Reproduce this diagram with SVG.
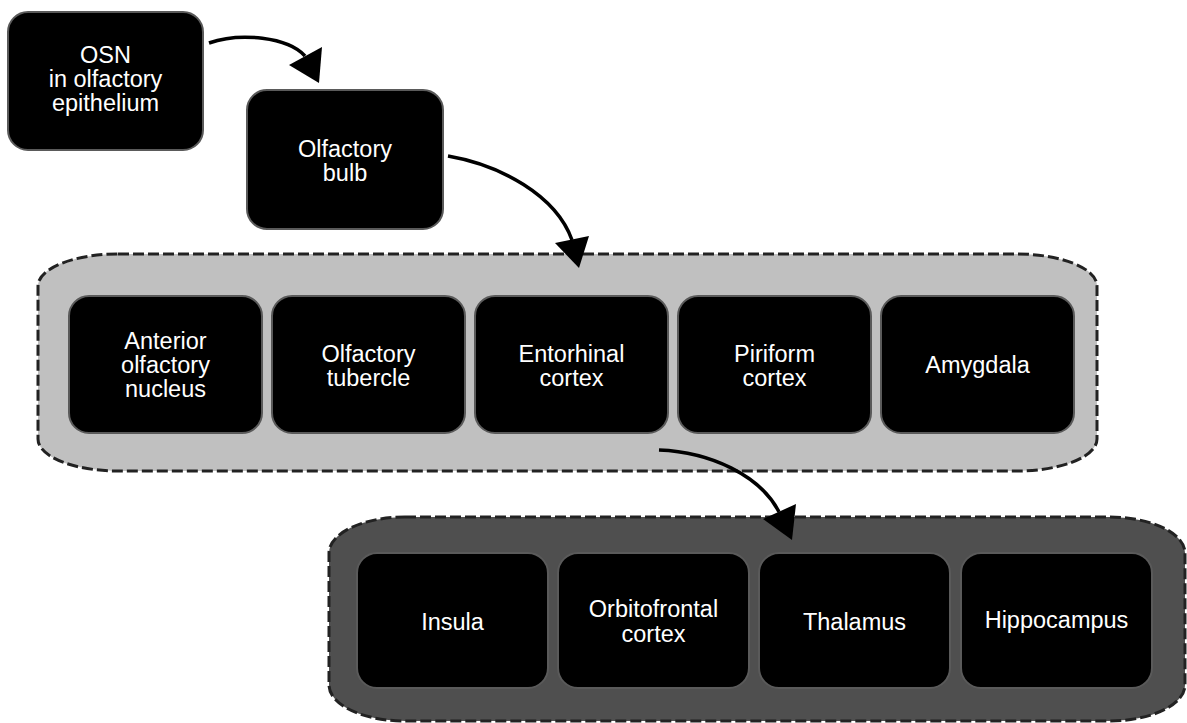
<svg xmlns="http://www.w3.org/2000/svg" width="1187" height="723" viewBox="0 0 1187 723">
<style>
.bg{fill:#ffffff}
.grp1{fill:#c0c0c0;stroke:#222222;stroke-width:3;stroke-dasharray:11 4}
.grp2{fill:#4f4f4f;stroke:#222222;stroke-width:3;stroke-dasharray:11 4}
.box{fill:#000000;stroke:#5a5a5a;stroke-width:2}
.lbl{fill:#ffffff;font-family:"Liberation Sans",Arial,sans-serif;font-size:23.5px;text-anchor:middle}
.wire{fill:none;stroke:#000000;stroke-width:3.5}
.head{fill:#000000}
</style>
<rect class="bg" x="0" y="0" width="1187" height="723"/>
<g id="group-primary">
<rect class="grp1" x="38" y="254" width="1059" height="217" rx="80" ry="32"/>
</g>
<g id="group-secondary">
<rect class="grp2" x="329" y="517" width="856" height="204" rx="76" ry="36"/>
</g>
<g id="osn">
<rect class="box" x="8" y="12" width="195" height="138" rx="20"/>
<text class="lbl" x="105.5" y="63">OSN</text>
<text class="lbl" x="105.5" y="87">in olfactory</text>
<text class="lbl" x="105.5" y="111">epithelium</text>
</g>
<g id="olfactory-bulb">
<rect class="box" x="247" y="90" width="196" height="139" rx="20"/>
<text class="lbl" x="345" y="157">Olfactory</text>
<text class="lbl" x="345" y="181">bulb</text>
</g>
<g id="anterior-olfactory-nucleus">
<rect class="box" x="69" y="296" width="193" height="137" rx="20"/>
<text class="lbl" x="165.5" y="349">Anterior</text>
<text class="lbl" x="165.5" y="373">olfactory</text>
<text class="lbl" x="165.5" y="397">nucleus</text>
</g>
<g id="olfactory-tubercle">
<rect class="box" x="272" y="296" width="193" height="137" rx="20"/>
<text class="lbl" x="368.5" y="362">Olfactory</text>
<text class="lbl" x="368.5" y="386">tubercle</text>
</g>
<g id="entorhinal-cortex">
<rect class="box" x="475" y="296" width="193" height="137" rx="20"/>
<text class="lbl" x="571.5" y="362">Entorhinal</text>
<text class="lbl" x="571.5" y="386">cortex</text>
</g>
<g id="piriform-cortex">
<rect class="box" x="678" y="296" width="193" height="137" rx="20"/>
<text class="lbl" x="774.5" y="362">Piriform</text>
<text class="lbl" x="774.5" y="386">cortex</text>
</g>
<g id="amygdala">
<rect class="box" x="881" y="296" width="193" height="137" rx="20"/>
<text class="lbl" x="977.5" y="373">Amygdala</text>
</g>
<g id="insula">
<rect class="box" x="357" y="553" width="191" height="135" rx="20"/>
<text class="lbl" x="452.5" y="630">Insula</text>
</g>
<g id="orbitofrontal-cortex">
<rect class="box" x="558" y="553" width="191" height="135" rx="20"/>
<text class="lbl" x="653.5" y="617">Orbitofrontal</text>
<text class="lbl" x="653.5" y="642">cortex</text>
</g>
<g id="thalamus">
<rect class="box" x="759" y="553" width="191" height="135" rx="20"/>
<text class="lbl" x="854.5" y="630">Thalamus</text>
</g>
<g id="hippocampus">
<rect class="box" x="961" y="553" width="191" height="135" rx="20"/>
<text class="lbl" x="1056.5" y="628">Hippocampus</text>
</g>
<g id="connectors">
<path class="wire" d="M209,43 C240,32 288,37 305,56"/>
<polygon class="head" points="289,65 322,47 319,83"/>
<path class="wire" d="M448,156 C500,165 556,195 572,240"/>
<polygon class="head" points="555,243 589,236 579,268"/>
<path class="wire" d="M659,450 C710,452 760,475 779,512"/>
<polygon class="head" points="763,519 796,504 792,540"/>
</g>
</svg>
